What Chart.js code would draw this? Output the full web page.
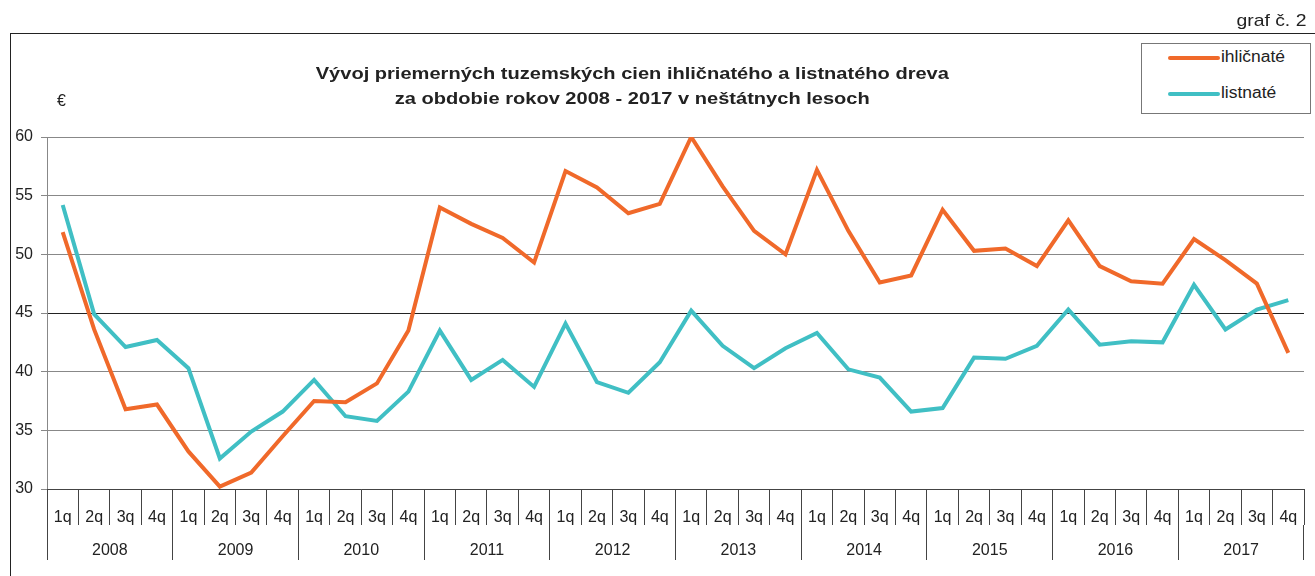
<!DOCTYPE html>
<html>
<head>
<meta charset="utf-8">
<script src="https://cdn.jsdelivr.net/npm/chart.js@4/dist/chart.umd.min.js"></script>
<style>
    html, body { margin: 0; padding: 0; background: #fff; }
    body { width: 1315px; height: 576px; position: relative; overflow: hidden; font-family: "Liberation Sans", Arial, sans-serif; color: #222; }
    #frame { position: absolute; left: 10px; top: 33px; width: 1320px; height: 560px; border-left: 1.5px solid #222; border-top: 1.5px solid #222; }
    #wrap { position: absolute; left: 0; top: 0; width: 1315px; height: 576px; }
    .txt { position: absolute; white-space: nowrap; }
    #graf { right: 9px; top: 11px; font-size: 17px; transform: scaleX(1.14); transform-origin: right center; }
    #title { left: 0; width: 1264px; top: 61px; text-align: center; }
    #title span { display: inline-block; font-weight: bold; font-size: 17px; line-height: 25px; color: #222; transform: scaleX(1.18); }
    #euro { left: 57px; top: 92px; font-size: 16px; }
    #legend { position: absolute; left: 1141px; top: 43px; width: 168px; height: 69px; border: 1px solid #777; background: #fff; }
    .leg { position: absolute; left: 26px; font-size: 16px; }
    .leg span { display: inline-block; width: 52px; height: 4px; border-radius: 2px; vertical-align: middle; margin-right: 1px; }
    .leg b { display: inline-block; font-weight: normal; transform: scaleX(1.09); transform-origin: left center; }
</style>
</head>
<body>
<div id="frame"></div>
<div id="wrap"><canvas id="chart" width="1315" height="576"></canvas></div>
<div class="txt" id="graf">graf č. 2</div>
<div class="txt" id="title"><span>Vývoj priemerných tuzemských cien ihličnatého a listnatého dreva<br>za obdobie rokov 2008 - 2017 v neštátnych lesoch</span></div>
<div class="txt" id="euro">€</div>
<div id="legend">
    <div class="leg" style="top:4px"><span style="background:#F0692A"></span><b>ihličnaté</b></div>
    <div class="leg" style="top:40px"><span style="background:#40BFC4"></span><b>listnaté</b></div>
</div>
<script>
const quarters = [];
const years = ['2008', '2009', '2010', '2011', '2012', '2013', '2014', '2015', '2016', '2017'];
years.forEach(() => quarters.push('1q', '2q', '3q', '4q'));

const ihlicnate = [
    51.9, 43.6, 36.8, 37.2,
    33.2, 30.2, 31.4, 34.5,
    37.5, 37.4, 39.0, 43.5,
    54.0, 52.6, 51.4, 49.3,
    57.1, 55.7, 53.5, 54.3,
    60.0, 55.8, 52.0, 50.0,
    57.2, 52.0, 47.6, 48.2,
    53.8, 50.3, 50.5, 49.0,
    52.9, 49.0, 47.7, 47.5,
    51.3, 49.5, 47.5, 41.6
];
const listnate = [
    54.2, 44.9, 42.1, 42.7,
    40.3, 32.6, 34.9, 36.6,
    39.3, 36.2, 35.8, 38.3,
    43.5, 39.3, 41.0, 38.7,
    44.1, 39.1, 38.2, 40.8,
    45.2, 42.2, 40.3, 42.0,
    43.3, 40.2, 39.5, 36.6,
    36.9, 41.2, 41.1, 42.2,
    45.3, 42.3, 42.6, 42.5,
    47.4, 43.6, 45.3, 46.1
];

const FONT = { family: '"Liberation Sans", Arial, sans-serif', size: 16 };

const ctx = document.getElementById('chart').getContext('2d');
const chart = new Chart(ctx, {
    type: 'line',
    data: {
        labels: quarters,
        datasets: [
            { label: 'ihličnaté', data: ihlicnate, borderColor: '#F0692A', borderWidth: 4, pointRadius: 0, tension: 0, xAxisID: 'x' },
            { label: 'listnaté', data: listnate, borderColor: '#40BFC4', borderWidth: 4, pointRadius: 0, tension: 0, xAxisID: 'x' }
        ]
    },
    options: {
        responsive: false,
        animation: false,
        layout: { padding: { left: 0, top: 137, right: 11, bottom: 16 } },
        plugins: { legend: { display: false }, tooltip: { enabled: false } },
        scales: {
            y: {
                min: 30, max: 60,
                ticks: { stepSize: 5, color: '#222', font: FONT, padding: 8 },
                grid: {
                    color: ctx => ctx.tick && ctx.tick.value === 45 ? '#222' : '#888',
                    tickLength: 6, tickColor: '#888'
                },
                border: { color: '#888' },
                afterFit: scale => { scale.width = 47; }
            },
            x: {
                offset: true,
                ticks: { color: '#222', font: FONT, padding: -17, maxRotation: 0, autoSkip: false },
                grid: { offset: true, drawOnChartArea: false, tickLength: 36, color: '#444' },
                border: { color: '#444' },
                afterFit: scale => { scale.height = 36; }
            },
            years: {
                type: 'category',
                position: 'bottom',
                labels: years,
                offset: true,
                ticks: { color: '#222', font: FONT, padding: -19, maxRotation: 0, autoSkip: false },
                grid: { offset: true, drawOnChartArea: false, tickLength: 35, color: '#444' },
                border: { display: false },
                afterFit: scale => { scale.height = 35; }
            }
        }
    }
});
</script>
</body>
</html>
